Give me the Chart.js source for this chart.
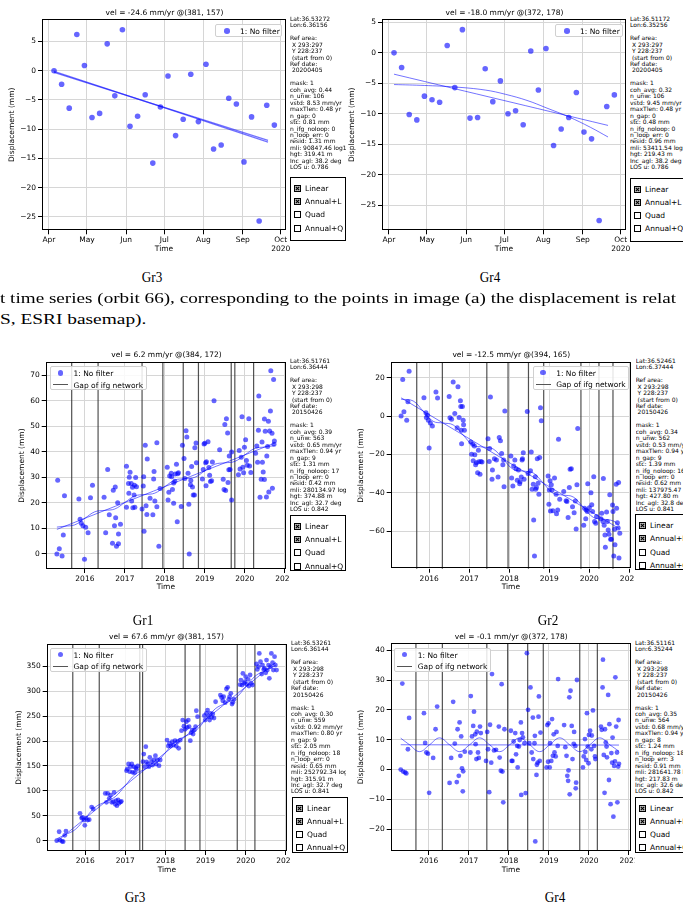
<!DOCTYPE html>
<html><head><meta charset="utf-8">
<script src="https://cdn.jsdelivr.net/npm/chart.js"></script>
<style>
body{margin:0;width:683px;height:910px;position:relative;overflow:hidden;background:#fff;font-family:"DejaVu Sans",sans-serif;color:#000}
canvas{position:absolute}
.t{position:absolute;white-space:nowrap;transform:translate(-50%,-50%);font-size:7.5px}
.side{position:absolute;font-size:6px;line-height:6.45px;white-space:pre;overflow:hidden}
.cb{position:absolute;border:1px solid #000;background:#fff;box-sizing:border-box;overflow:hidden}
.cbi{position:absolute;left:3px;font-size:7.5px;white-space:nowrap;display:flex;align-items:center}
.cbi svg{margin-right:4px}
.lg{position:absolute;border:1px solid #d0d0d0;border-radius:2px;background:rgba(255,255,255,0.85);box-sizing:border-box}
.lgi{position:absolute;font-size:7.5px;white-space:nowrap;transform:translateY(-50%)}
.cap{position:absolute;font-family:"Liberation Serif",serif;white-space:nowrap;font-size:15.5px;transform-origin:0 50%}
</style></head><body>
<script>
// ---------------- DATA ----------------
const monthTickDates = ['2020-04-01','2020-05-01','2020-06-01','2020-07-01','2020-08-01','2020-09-01','2020-10-01'];
const monthTickLabels = ['Apr','May','Jun','Jul','Aug','Sep','Oct'];
const topDates = ['2020-04-05','2020-04-11','2020-04-17','2020-04-23','2020-04-29','2020-05-05','2020-05-11','2020-05-17','2020-05-23','2020-05-29',
 '2020-06-04','2020-06-10','2020-06-16','2020-06-22','2020-06-28','2020-07-04','2020-07-10','2020-07-16','2020-07-22','2020-07-28',
 '2020-08-03','2020-08-09','2020-08-15','2020-08-21','2020-08-27','2020-09-02','2020-09-08','2020-09-14','2020-09-20','2020-09-26'];
const top1Disp = [0,-2.3,-6.4,6.2,0.9,-8.0,-7.3,4.6,-4.3,7.0,-9.5,-7.8,-4.1,-15.8,-6.2,-0.9,-11.1,-8.3,-0.6,-8.7,1.1,-13.4,-12.7,-4.7,-5.7,-15.6,-7.9,-25.7,-5.9,-9.3];
const top2Disp = [0,-2.4,-10.1,-11.0,-7.1,-7.7,-8.1,1.2,-5.7,3.8,-10.7,-10.6,-2.6,-8.0,-4.6,-10.0,-9.5,-11.8,0.3,-6.1,0.7,-15.2,-12.5,-10.6,-6.5,-13.0,-14.1,-27.5,-8.8,-6.9];
const topFitDates = ['2020-04-05','2020-09-21'];
const top1Linear = [-0.3,-11.9];
const top1Annual = [-0.1,-12.2];
const top2Linear = [-3.5,-11.9];
const top2AnnDates = ['2020-04-05','2020-04-29','2020-05-23','2020-06-16','2020-07-02','2020-07-19','2020-08-03','2020-08-21','2020-09-07','2020-09-21'];
const top2Annual = [-5.2,-5.35,-5.6,-6.1,-6.8,-7.8,-9.0,-10.5,-12.2,-13.8];

const yearTicks = [2016,2017,2018,2019,2020,2021];

const gr1Obs = [[2015.32,28.8],[2015.30,0.0],[2015.36,2.0],[2015.43,-0.8],[2015.46,7.4],[2015.49,22.8],[2015.85,21.5],[2015.88,13.6],[2015.91,12.0],[2015.95,11.0],
[2015.99,-2.1],[2016.02,10.4],[2016.08,8.3],[2016.14,22.0],[2016.19,26.9],[2016.48,22.2],[2016.52,8.3],[2016.57,33.0],[2016.61,15.3],[2016.69,4.2],
[2016.71,24.9],[2016.74,11.0],[2016.76,26.2],[2016.77,14.2],[2016.79,3.0],[2016.82,20.0],[2016.84,7.8],[2016.84,4.0],[2016.89,11.6],[2017.04,34.3],
[2017.04,18.3],[2017.09,27.6],[2017.10,23.7],[2017.11,30.0],[2017.13,32.0],[2017.16,27.6],[2017.17,20.7],[2017.19,26.1],[2017.20,18.1],[2017.23,23.1],
[2017.24,26.9],[2017.25,18.3],[2017.27,29.9],[2017.29,26.3],[2017.43,17.6],[2017.46,26.6],[2017.47,30.2],[2017.48,8.9],[2017.51,42.5],[2017.53,18.9],
[2017.55,15.4],[2017.56,37.2],[2017.63,21.8],[2017.70,15.3],[2017.72,29.3],[2017.73,32.3],[2017.75,20.7],[2017.80,43.5],[2017.80,18.5],[2017.85,3.0],
[2017.88,25.6],[2018.06,33.9],[2018.08,21.1],[2018.10,24.1],[2018.12,30.5],[2018.16,31.6],[2018.17,30.2],[2018.19,25.2],[2018.22,19.8],[2018.22,27.8],
[2018.25,28.4],[2018.26,31.3],[2018.29,35.1],[2018.31,12.6],[2018.32,31.4],[2018.34,31.8],[2018.41,18.6],[2018.44,42.5],[2018.48,37.3],[2018.50,29.5],
[2018.53,48.2],[2018.55,45.8],[2018.58,31.6],[2018.60,19.4],[2018.61,0.0],[2018.64,27.1],[2018.65,28.7],[2018.67,34.2],[2018.69,26.2],[2018.71,23.1],
[2018.74,23.1],[2018.75,41.6],[2018.78,43.4],[2018.79,35.7],[2018.94,29.3],[2018.96,33.0],[2018.98,43.0],[2019.00,43.3],[2019.02,35.7],[2019.03,26.7],
[2019.04,36.1],[2019.08,43.9],[2019.10,33.8],[2019.12,30.8],[2019.14,28.3],[2019.17,28.6],[2019.19,36.0],[2019.23,60.0],[2019.37,40.8],[2019.46,29.2],
[2019.48,25.2],[2019.50,50.7],[2019.52,24.8],[2019.54,52.9],[2019.57,47.3],[2019.58,28.0],[2019.60,32.9],[2019.61,38.3],[2019.63,33.0],[2019.67,21.1],
[2019.67,39.9],[2019.84,31.0],[2019.86,40.5],[2019.88,33.2],[2019.91,37.8],[2019.93,53.7],[2019.95,33.9],[2019.97,31.8],[2019.99,41.8],[2020.02,44.7],
[2020.04,36.6],[2020.06,34.7],[2020.10,52.9],[2020.12,34.4],[2020.15,31.9],[2020.27,39.4],[2020.30,42.2],[2020.32,35.9],[2020.34,48.4],[2020.35,61.8],
[2020.38,22.2],[2020.41,29.2],[2020.43,43.8],[2020.44,35.9],[2020.46,32.1],[2020.49,29.1],[2020.49,52.8],[2020.51,48.0],[2020.54,22.3],[2020.55,38.3],
[2020.57,42.0],[2020.59,51.9],[2020.60,24.2],[2020.62,48.1],[2020.64,55.9],[2020.65,71.7],[2020.68,47.2],[2020.69,25.7],[2020.72,68.3],[2020.73,42.9],[2020.74,44.2]];
const gr1Gaps = [2015.67,2016.33,2017.43,2017.95,2018.46,2018.84,2019.66,2019.75,2020.22];
const gr1Linear = [[2015.30,9.6],[2020.75,43.4]];
const gr1Annual = [[2015.30,10.5],[2015.50,10.85],[2015.75,11.4],[2016.00,13.95],[2016.25,16.5],[2016.50,17.05],[2016.75,17.6],[2017.00,20.15],[2017.25,22.7],[2017.50,23.25],
[2017.75,23.8],[2018.00,26.35],[2018.25,28.9],[2018.50,29.45],[2018.75,30.0],[2019.00,32.55],[2019.25,35.1],[2019.50,35.65],[2019.75,36.2],[2020.00,38.75],[2020.25,41.3],[2020.50,41.85],[2020.75,42.4]];

const gr2Obs = [[2015.30,0],[2015.34,19],[2015.37,2.3],[2015.44,-2.1],[2015.47,7.5],[2015.50,23.4],[2015.87,9.5],[2015.92,1.7],[2015.93,-0.7],[2015.96,0.5],
[2015.98,-2.1],[2016.00,-16.6],[2016.03,-3.6],[2016.08,-5.2],[2016.17,12.5],[2016.21,9.4],[2016.50,10.2],[2016.52,-0.9],[2016.56,-1.6],[2016.60,17.7],
[2016.64,1.4],[2016.70,-6.1],[2016.72,15.3],[2016.75,-0.7],[2016.78,8.0],[2016.79,5.0],[2016.80,-7.3],[2016.81,-14.4],[2016.83,5.0],[2016.85,-2.1],
[2016.86,-4.5],[2016.88,-7.3],[2017.04,-13.5],[2017.06,-19.8],[2017.09,-14.6],[2017.10,-23.2],[2017.13,-15.6],[2017.14,-20.1],[2017.16,-25.3],[2017.18,-24.3],
[2017.21,-29.5],[2017.23,-17.7],[2017.24,-23.7],[2017.27,-30.2],[2017.29,-23.6],[2017.32,-23.9],[2017.47,-11.8],[2017.50,-23.6],[2017.51,-16.8],[2017.53,10.0],
[2017.57,-32.8],[2017.58,-28.1],[2017.63,-22.2],[2017.68,-22.9],[2017.72,-31.7],[2017.75,-11.1],[2017.78,-12.8],[2017.81,-19.4],[2017.84,-25.3],[2017.86,-22.9],
[2017.87,-36.7],[2017.89,2.6],[2018.04,-20.8],[2018.06,-32.2],[2018.09,-36.4],[2018.11,-26.0],[2018.14,-22.9],[2018.17,-27.4],[2018.20,-33.4],[2018.23,-28.1],
[2018.26,-35.2],[2018.27,-34.1],[2018.30,-31.7],[2018.32,-22.9],[2018.33,-22.2],[2018.35,-19.1],[2018.37,-32.9],[2018.45,2.4],[2018.47,-29.8],[2018.53,-28.4],
[2018.55,-18.7],[2018.57,-38.1],[2018.60,-35.4],[2018.61,-54.1],[2018.63,-72.8],[2018.65,-31.5],[2018.66,-38.1],[2018.68,-37.1],[2018.70,-22.2],[2018.72,-35.0],
[2018.74,-40.6],[2018.76,-21.5],[2018.78,4.3],[2018.80,-2.4],[2018.97,-31.2],[2018.99,-45.8],[2019.00,-38.5],[2019.02,-33.6],[2019.03,-49.4],[2019.05,-35.7],
[2019.07,-38.5],[2019.09,-49.2],[2019.13,-32.2],[2019.17,-40.7],[2019.18,-50.8],[2019.21,-48.9],[2019.23,-12.1],[2019.26,-43.3],[2019.36,-39.2],[2019.42,-44.0],
[2019.44,-44.4],[2019.47,-52.7],[2019.50,-37.1],[2019.52,-27.6],[2019.55,-27.4],[2019.58,-47.1],[2019.62,-50.3],[2019.65,-44.2],[2019.67,-58.8],[2019.69,-35.7],
[2019.71,-6.4],[2019.86,-56.8],[2019.88,-48.0],[2019.91,-53.4],[2019.92,-48.9],[2019.95,-49.6],[2019.96,-35.2],[2020.00,-47.7],[2020.04,-39.9],[2020.06,-46.1],
[2020.08,-49.7],[2020.11,-31.5],[2020.13,-54.8],[2020.16,-55.8],[2020.18,-52.2],[2020.29,-53.4],[2020.31,-50.6],[2020.34,-54.8],[2020.35,-32.4],[2020.37,-56.8],
[2020.39,-61.9],[2020.40,-68.3],[2020.43,-49.9],[2020.45,-54.8],[2020.47,-59.3],[2020.49,-61.5],[2020.51,-40.9],[2020.53,-64.1],[2020.55,-64.1],[2020.58,-46.3],
[2020.59,-49.7],[2020.61,-72.8],[2020.63,-58.9],[2020.64,-66.9],[2020.67,-35.4],[2020.68,-48.0],[2020.70,-55.5],[2020.72,-58.2],[2020.73,-34.5],[2020.74,-73.8],[2020.76,-61.0]];
const gr2Gaps = [2015.69,2016.33,2017.44,2017.97,2018.48,2018.86,2019.79,2020.24,2020.59];
const gr2Linear = [[2015.30,9.5],[2020.75,-58.6]];
const gr2Annual = [[2015.30,8.8],[2015.60,7.9],[2015.85,2.6],[2016.10,-2.7],[2016.35,-3.6],[2016.60,-4.6],[2016.85,-9.9],[2017.10,-15.2],[2017.35,-16.1],[2017.60,-17.1],
[2017.85,-22.4],[2018.10,-27.7],[2018.35,-28.6],[2018.60,-29.6],[2018.85,-34.9],[2019.10,-40.2],[2019.35,-41.1],[2019.60,-42.1],[2019.85,-47.4],[2020.10,-52.7],[2020.35,-53.6],[2020.60,-54.6],[2020.75,-57.0]];

const gr3Obs = [[2015.29,0],[2015.35,18],[2015.37,1.3],[2015.42,-1.3],[2015.45,-2],[2015.49,10.7],[2015.52,19.4],[2015.87,55],[2015.91,45.5],[2015.93,46.9],
[2015.97,41.5],[2015.99,30.8],[2016.02,45.5],[2016.06,41.5],[2016.10,42.2],[2016.16,67.6],[2016.20,63.6],[2016.50,95],[2016.53,77],[2016.56,95],
[2016.60,85],[2016.63,91.7],[2016.66,77],[2016.70,78.3],[2016.72,97],[2016.75,73],[2016.77,80.3],[2016.79,70.3],[2016.82,81.7],[2016.84,75],
[2016.88,77.6],[2016.90,79],[2017.03,140.6],[2017.05,144],[2017.08,154],[2017.11,138.6],[2017.13,148.6],[2017.16,154],[2017.18,137.2],[2017.21,148.6],
[2017.23,136.5],[2017.26,146.6],[2017.28,143.2],[2017.31,150],[2017.44,158.6],[2017.46,174],[2017.48,148.6],[2017.51,188.8],[2017.53,158],[2017.56,154],
[2017.59,148.6],[2017.61,167.3],[2017.65,158.6],[2017.68,152],[2017.71,162],[2017.75,170.7],[2017.77,154],[2017.80,162],[2017.84,150.6],[2017.87,162],
[2018.04,202],[2018.07,190],[2018.10,195.4],[2018.13,190],[2018.17,198.8],[2018.20,192],[2018.24,200.8],[2018.27,190],[2018.30,198.8],[2018.33,185.4],
[2018.37,202],[2018.40,221],[2018.43,242.3],[2018.46,230],[2018.49,223.6],[2018.52,239],[2018.54,227.6],[2018.57,242.3],[2018.59,229],[2018.62,200.8],
[2018.64,216.9],[2018.67,222.2],[2018.69,214.2],[2018.72,222.2],[2018.75,229],[2018.77,261],[2018.80,249],[2018.97,251],[2018.99,242.3],[2019.02,255.7],
[2019.05,262.4],[2019.07,249],[2019.10,242.3],[2019.12,255.7],[2019.15,247.7],[2019.18,254.4],[2019.21,246.3],[2019.25,279],[2019.37,292.5],[2019.40,287.8],
[2019.43,281],[2019.45,289.2],[2019.49,277.1],[2019.52,304.6],[2019.55,308],[2019.58,283.8],[2019.60,289.2],[2019.63,296],[2019.66,274.4],[2019.68,277.8],
[2019.71,283.8],[2019.86,313.3],[2019.88,322.6],[2019.91,312.6],[2019.93,336],[2019.96,316],[2019.98,319.3],[2020.00,329.3],[2020.03,314],[2020.06,324],
[2020.08,310.6],[2020.11,332.7],[2020.14,316],[2020.17,312.6],[2020.27,354.8],[2020.29,344],[2020.32,349.4],[2020.34,376],[2020.37,359.4],[2020.40,334.7],
[2020.42,352.7],[2020.45,344],[2020.47,346],[2020.50,337.3],[2020.52,362.8],[2020.54,342.7],[2020.57,352.7],[2020.59,326],[2020.62,349.4],[2020.64,376],
[2020.67,357.4],[2020.69,342.7],[2020.72,369.5],[2020.74,352.7],[2020.77,342.7]];
const gr3Gaps = [2015.69,2016.35,2017.36,2017.43,2018.49,2018.86,2019.79,2020.23];
const gr3Linear = [[2015.29,-2],[2020.75,358.4]];
const gr3Annual = [[2015.29,3.8],[2015.50,11.9],[2015.75,22.4],[2016.00,44.9],[2016.25,67.4],[2016.50,77.9],[2016.75,88.4],[2017.00,110.9],[2017.25,133.4],[2017.50,143.9],
[2017.75,154.4],[2018.00,176.9],[2018.25,199.4],[2018.50,209.9],[2018.75,220.4],[2019.00,242.9],[2019.25,265.4],[2019.50,275.9],[2019.75,286.4],[2020.00,308.9],[2020.25,331.4],[2020.50,341.9],[2020.75,352.4]];

const gr4Obs = [[2015.30,0],[2015.34,28.8],[2015.36,-0.7],[2015.41,-1.0],[2015.44,-1.3],[2015.48,6.8],[2015.51,17.3],[2015.88,18.9],[2015.91,8.9],[2015.94,5.7],
[2015.98,5.3],[2016.01,-7.8],[2016.11,3.9],[2016.17,13.5],[2016.21,21.1],[2016.52,-4.5],[2016.56,3.9],[2016.61,22.7],[2016.65,8.7],[2016.70,-4.2],
[2016.72,13.5],[2016.75,-2.1],[2016.77,15.8],[2016.79,4.6],[2016.81,11.1],[2016.83,0.4],[2016.85,-7.3],[2016.86,-0.6],[2016.90,6.0],[2017.04,5.7],
[2017.05,24.6],[2017.08,11.1],[2017.11,14.6],[2017.13,19.4],[2017.16,11.8],[2017.17,8.5],[2017.19,3.5],[2017.20,12.7],[2017.23,5.7],[2017.25,3.9],
[2017.28,14.4],[2017.30,12.2],[2017.43,2.9],[2017.46,12.6],[2017.48,6.8],[2017.51,-7.6],[2017.53,15.0],[2017.56,2.3],[2017.58,32.0],[2017.63,6.4],
[2017.68,6.6],[2017.75,14.4],[2017.77,4.0],[2017.80,-0.4],[2017.82,28.6],[2017.84,-0.7],[2017.86,-11.0],[2017.89,13.5],[2018.05,13.0],[2018.07,2.9],
[2018.09,2.9],[2018.12,9.4],[2018.16,12.2],[2018.18,5.1],[2018.21,7.9],[2018.22,0.7],[2018.25,7.7],[2018.27,9.9],[2018.30,15.8],[2018.31,-8.5],
[2018.33,12.2],[2018.35,10.8],[2018.39,8.8],[2018.42,-7.9],[2018.45,39.0],[2018.48,20.0],[2018.51,8.8],[2018.54,27.5],[2018.57,5.7],[2018.60,17.4],
[2018.61,3.5],[2018.64,8.8],[2018.65,11.3],[2018.66,-24.1],[2018.69,-1.8],[2018.70,1.6],[2018.72,2.3],[2018.74,17.7],[2018.75,24.5],[2018.77,2.9],
[2018.79,12.4],[2018.94,0.7],[2018.96,14.9],[2018.98,2.6],[2018.99,15.5],[2019.02,0.7],[2019.03,8.8],[2019.06,2.9],[2019.08,16.9],[2019.10,4.6],
[2019.12,11.8],[2019.14,5.7],[2019.17,4.4],[2019.19,12.6],[2019.22,7.9],[2019.23,30.3],[2019.38,14.9],[2019.41,7.5],[2019.44,4.6],[2019.46,-2.1],
[2019.48,-3.8],[2019.49,-0.3],[2019.51,24.2],[2019.52,-8.3],[2019.54,26.4],[2019.57,14.6],[2019.59,3.5],[2019.62,8.6],[2019.63,12.6],[2019.66,7.9],
[2019.67,-6.3],[2019.68,-4.4],[2019.70,30.0],[2019.85,0.7],[2019.87,4.4],[2019.90,10.2],[2019.91,5.9],[2019.93,3.2],[2019.95,18.9],[2019.97,7.7],
[2019.99,2.1],[2020.00,11.6],[2020.03,13.0],[2020.06,6.8],[2020.07,11.4],[2020.10,19.8],[2020.13,7.9],[2020.15,4.4],[2020.16,3.5],[2020.30,14.4],
[2020.32,13.3],[2020.34,27.5],[2020.35,36.8],[2020.37,4.9],[2020.39,-7.8],[2020.40,13.5],[2020.42,9.1],[2020.44,7.7],[2020.45,4.1],[2020.48,25.0],
[2020.50,-3.5],[2020.51,15.2],[2020.54,-11.6],[2020.56,5.5],[2020.58,2.3],[2020.59,10.7],[2020.61,-15.8],[2020.63,1.2],[2020.65,2.7],[2020.66,30.9],
[2020.68,14.4],[2020.70,5.7],[2020.71,-11.0],[2020.73,1.0],[2020.74,16.6],[2020.75,1.9]];
const gr4Gaps = [2015.68,2016.34,2017.45,2017.97,2018.47,2018.86,2019.77,2020.21];
const gr4Linear = [[2015.30,8.3],[2020.75,8.2]];
const gr4Annual = [[2015.30,10.5],[2015.52,8.3],[2015.77,6.0],[2016.02,8.3],[2016.27,10.6],[2016.52,8.3],[2016.77,6.0],[2017.02,8.3],[2017.27,10.6],[2017.52,8.3],
[2017.77,6.0],[2018.02,8.3],[2018.27,10.6],[2018.52,8.3],[2018.77,6.0],[2019.02,8.3],[2019.27,10.6],[2019.52,8.3],[2019.77,6.0],[2020.02,8.3],[2020.27,10.6],[2020.52,8.3],[2020.75,6.1]];

// ---------------- HELPERS ----------------
const dayOf = s => { const [y,m,d] = s.split('-').map(Number); return (Date.UTC(y,m-1,d) - Date.UTC(2020,0,1)) / 864e5; };
const fmtNum = v => v < 0 ? '\u2212' + Math.abs(v) : String(v);
const PT = 'rgba(0,0,255,0.6)';
const LN = 'rgba(0,0,255,0.55)';

const framePlugin = {id:'frame', afterDraw(c){const a=c.chartArea, ctx=c.ctx; ctx.save(); ctx.strokeStyle='#000'; ctx.lineWidth=1;
  ctx.strokeRect(Math.round(a.left)+0.5, Math.round(a.top)+0.5, Math.round(a.right-a.left)-1, Math.round(a.bottom-a.top)-1); ctx.restore();}};
function gapPlugin(vals){ return {id:'gapLines', beforeDatasetsDraw(c){ const a=c.chartArea, ctx=c.ctx, xs=c.scales.x; ctx.save();
  ctx.strokeStyle='rgba(50,50,50,0.85)'; ctx.lineWidth=1.2;
  vals.forEach(v=>{ const px=xs.getPixelForValue(v); ctx.beginPath(); ctx.moveTo(px,a.top); ctx.lineTo(px,a.bottom); ctx.stroke(); });
  ctx.restore(); }}; }

function panel(o){
  const c = document.createElement('canvas');
  c.width = o.cw; c.height = o.ch; c.style.left = o.cx+'px'; c.style.top = o.cy+'px';
  document.body.appendChild(c);
  const [l,t,r,b] = o.area;
  const font = {family:'DejaVu Sans', size:7.5};
  new Chart(c, {
    type:'scatter',
    data:{datasets:o.datasets},
    options:{
      responsive:false, animation:false, devicePixelRatio:1,
      layout:{padding:{top:t-o.cy, right:o.cx+o.cw-r, left:0, bottom:0}},
      plugins:{legend:{display:false}, tooltip:{enabled:false}},
      scales:{
        x:{type:'linear', min:o.xmin, max:o.xmax,
          afterBuildTicks:s=>{ s.ticks = o.xticks.map(v=>({value:v})); },
          afterFit:s=>{ s.height = o.cy+o.ch-b; s.paddingLeft=0; s.paddingRight=0; },
          ticks:{callback:o.xfmt, font, color:'#000', padding:1.5, maxRotation:0, autoSkip:false},
          grid:{color:'#d6d6d6', lineWidth:1, tickColor:'#000', tickLength:4},
          border:{display:false},
          title:{display:true, text:'Time', font, color:'#000', padding:{top:0, bottom:o.xlabPad}}},
        y:{type:'linear', min:o.ymin, max:o.ymax,
          afterBuildTicks:s=>{ s.ticks = o.yticks.map(v=>({value:v})); },
          afterFit:s=>{ s.width = l-o.cx; s.paddingTop=0; s.paddingBottom=0; },
          ticks:{callback:fmtNum, font, color:'#000', padding:2, autoSkip:false},
          grid:{color:'#d6d6d6', lineWidth:1, tickColor:'#000', tickLength:4},
          border:{display:false},
          title:{display:true, text:'Displacement (mm)', font, color:'#000', padding:{top:o.ylabPad, bottom:0}}}
      }
    },
    plugins:[framePlugin].concat(o.gaps ? [gapPlugin(o.gaps)] : [])
  });
}
const ptsDs = (pts, rad) => ({data:pts, backgroundColor:PT, borderWidth:0, pointRadius:rad, order:2});
const lineDs = (pts, w) => ({type:'line', data:pts, borderColor:LN, borderWidth:w||1, pointRadius:0, fill:false, tension:0.4, order:1});
const pairs = arr => arr.map(p=>({x:p[0], y:p[1]}));
const topPts = vals => topDates.map((d,i)=>({x:dayOf(d), y:vals[i]}));
const datePts = (dates, vals) => dates.map((d,i)=>({x:dayOf(d), y:vals[i]}));
const monthFmt = (v) => { const i = monthTickDates.map(dayOf).indexOf(v); const s = monthTickLabels[i]; return s === 'Oct' ? ['Oct','2020'] : s; };
const yearFmt = v => String(v);

// ---------------- TOP ROW ----------------
panel({cx:0, cy:0, cw:290, ch:255, area:[42,19.3,287,230.3], xmin:85.5, xmax:278.2, ymin:-27.3, ymax:8.8,
  xticks:monthTickDates.map(dayOf), xfmt:monthFmt, yticks:[-25,-20,-15,-10,-5,0,5], ylabPad:7.5, xlabPad:1.2,
  datasets:[ptsDs(topPts(top1Disp),2.8), lineDs(datePts(topFitDates, top1Linear),1.3), lineDs(datePts(topFitDates, top1Annual),1.3)]});
panel({cx:340, cy:0, cw:290, ch:255, area:[382,19.3,627,230.3], xmin:85.5, xmax:278.2, ymin:-29.1, ymax:5.5,
  xticks:monthTickDates.map(dayOf), xfmt:monthFmt, yticks:[-25,-20,-15,-10,-5,0,5], ylabPad:7.5, xlabPad:1.2,
  datasets:[ptsDs(topPts(top2Disp),2.8), lineDs(datePts(topFitDates, top2Linear)), lineDs(datePts(top2AnnDates, top2Annual))]});

// ---------------- MIDDLE ROW ----------------
panel({cx:0, cy:340, cw:290, ch:255, area:[45.7,362.3,287.3,569], xmin:2015.02, xmax:2021.03, ymin:-5.9, ymax:75,
  xticks:yearTicks, xfmt:yearFmt, yticks:[0,10,20,30,40,50,60,70], ylabPad:17.9, xlabPad:3.2, gaps:gr1Gaps,
  datasets:[ptsDs(pairs(gr1Obs),2.5), lineDs(pairs(gr1Linear)), lineDs(pairs(gr1Annual))]});
panel({cx:345, cy:340, cw:290, ch:255, area:[390.7,362.3,632,568.7], xmin:2015.04, xmax:2021.04, ymin:-79.4, ymax:28,
  xticks:yearTicks, xfmt:yearFmt, yticks:[-60,-40,-20,0,20], ylabPad:11.9, xlabPad:3.5, gaps:gr2Gaps,
  datasets:[ptsDs(pairs(gr2Obs),2.5), lineDs(pairs(gr2Linear)), lineDs(pairs(gr2Annual))]});

// ---------------- BOTTOM ROW ----------------
panel({cx:0, cy:625, cw:291, ch:255, area:[46.7,644,287.3,851], xmin:2015.04, xmax:2021.03, ymin:-20.7, ymax:395,
  xticks:yearTicks, xfmt:yearFmt, yticks:[0,50,100,150,200,250,300,350], ylabPad:14.5, xlabPad:5.2, gaps:gr3Gaps,
  datasets:[ptsDs(pairs(gr3Obs),2.4), lineDs(pairs(gr3Linear)), lineDs(pairs(gr3Annual))]});
panel({cx:345, cy:625, cw:290, ch:255, area:[390.7,643.3,632,851], xmin:2015.05, xmax:2021.05, ymin:-27.3, ymax:42.3,
  xticks:yearTicks, xfmt:yearFmt, yticks:[-20,-10,0,10,20,30,40], ylabPad:11.9, xlabPad:5.2, gaps:gr4Gaps,
  datasets:[ptsDs(pairs(gr4Obs),2.4), lineDs(pairs(gr4Linear)), lineDs(pairs(gr4Annual))]});

// ---------------- TEXT / LEGENDS ----------------
function el(cls, css, html){ const d=document.createElement('div'); d.className=cls; Object.assign(d.style, css); d.innerHTML=html; document.body.appendChild(d); return d; }
function title(x,y,s){ el('t', {left:x+'px', top:y+'px'}, s); }
title(164.5,12,'vel = -24.6 mm/yr @(381, 157)');
title(504.5,12,'vel = -18.0 mm/yr @(372, 178)');
title(166.5,354.3,'vel = 6.2 mm/yr @(384, 172)');
title(511.3,354.3,'vel = -12.5 mm/yr @(394, 165)');
title(166.5,636,'vel = 67.6 mm/yr @(381, 157)');
title(511.3,636,'vel = -0.1 mm/yr @(372, 178)');

function side(x, y, w, lat, lon, xr, refd, st){
  const lines = ['Lat:'+lat, 'Lon:'+lon, '', 'Ref area:', ' X '+xr, ' Y 228:237', ' (start from 0)', 'Ref date:', ' '+refd, '',
    'mask: 1', 'coh_avg: '+st[0], 'n_unw: '+st[1], 'vstd: '+st[2]+' mm/yr', 'maxTlen: '+st[3]+' yr', 'n_gap: '+st[4], 'stc: '+st[5]+' mm',
    'n_ifg_noloop: '+st[6], 'n_loop_err: '+st[7], 'resid: '+st[8]+' mm', 'mli: '+st[9]+' log10', 'hgt: '+st[10]+' m', 'Inc_agl: '+st[11]+' deg', 'LOS u: '+st[12]];
  el('side', {left:x+'px', top:y+'px', width:w+'px'}, lines.join('\n'));
}
side(290,15.8,56,'36.53272','6.36156','293:297','20200405',['0.44','106','8.53','0.48','0','0.81','0','0','1.31','90847.46','319.41','38.2','0.786']);
side(630,15.8,60,'36.51172','6.35256','293:297','20200405',['0.32','106','9.45','0.48','0','0.48','0','0','0.96','53411.54','219.43','38.2','0.786']);
side(290,357.8,56,'36.51761','6.36444','293:298','20150426',['0.39','563','0.65','0.94','9','1.31','17','0','0.42','280134.97','374.88','32.7','0.842']);
side(635.7,357.8,60,'36.52461','6.37444','293:298','20150426',['0.34','562','0.53','0.94','9','1.39','16','0','0.62','137975.47','427.80','32.8','0.841']);
side(291,640,55,'36.53261','6.36144','293:298','20150426',['0.30','559','0.92','0.80','9','2.05','18','0','0.65','252792.34','315.91','32.7','0.841']);
side(635,640,60,'36.51161','6.35244','293:298','20150426',['0.35','564','0.68','0.94','8','1.24','18','3','0.91','281641.78','217.83','32.6','0.842']);

const boxSvg = chk => '<svg width="7" height="7" viewBox="0 0 7 7"><rect x="0.5" y="0.5" width="6" height="6" fill="#fff" stroke="#000" stroke-width="1"/>' +
  (chk ? '<path d="M1.8 1.8L5.2 5.2M5.2 1.8L1.8 5.2" stroke="#000" stroke-width="1.1"/><rect x="1" y="1" width="5" height="5" fill="rgba(0,0,0,0.25)"/>' : '') + '</svg>';
function checks(x, y, w, h){
  const items = [['Linear',true],['Annual+L',true],['Quad',false],['Annual+Q',false]];
  let html = '';
  items.forEach((it,i)=>{ html += '<div class="cbi" style="top:'+(6+i*13.2)+'px">'+boxSvg(it[1])+'<span>'+it[0]+'</span></div>'; });
  el('cb', {left:x+'px', top:y+'px', width:w+'px', height:h+'px'}, html);
}
checks(290,177,56,64);
checks(630,177.5,60,64);
checks(290,515,56,55.5);
checks(635,514.3,60,56);
checks(292,796.7,56,56);
checks(635,796.7,60,56);

function legend(x, y, w, h, gap){
  let html = '<div style="position:absolute;left:'+(gap?6.5:8.3)+'px;top:'+(gap?3:3.3)+'px;width:5.6px;height:5.6px;border-radius:50%;background:'+PT+'"></div>'+
    '<div class="lgi" style="left:'+(gap?22.5:24)+'px;top:'+(gap?6:6.3)+'px">1: No filter</div>';
  if (gap) html += '<div style="position:absolute;left:2px;top:17px;width:15px;height:1px;background:#555"></div>'+
    '<div class="lgi" style="left:22.5px;top:17.5px">Gap of ifg network</div>';
  el('lg', {left:x+'px', top:y+'px', width:w+'px', height:h+'px'}, html);
}
legend(215,24,67,13.3,false);
legend(555,24,67.5,13.3,false);
legend(50,366,97,24,true);
legend(532.7,365.7,96,24.3,true);
legend(50,647.7,96.7,24.3,true);
legend(394.3,647.7,96.4,24.3,true);

function cap(x, y, s, center, sx){
  const d = el('cap', {left:x+'px', top:y+'px'}, s);
  d.style.transform = center ? 'translate(-50%,-50%) scaleX(0.85)' : 'translateY(-50%) scaleX('+sx+')';
  if (center) d.style.transformOrigin = '50% 50%';
}
cap(152,277,'Gr3',true); cap(490,277,'Gr4',true);
cap(0,298,'t time series (orbit 66), corresponding to the points in image (a) the displacement is relat',false,1.235);
cap(0,319,'S, ESRI basemap).',false,1.25);
cap(143,620,'Gr1',true); cap(548,620,'Gr2',true);
cap(135,897,'Gr3',true); cap(555,897,'Gr4',true);
</script>
</body></html>
